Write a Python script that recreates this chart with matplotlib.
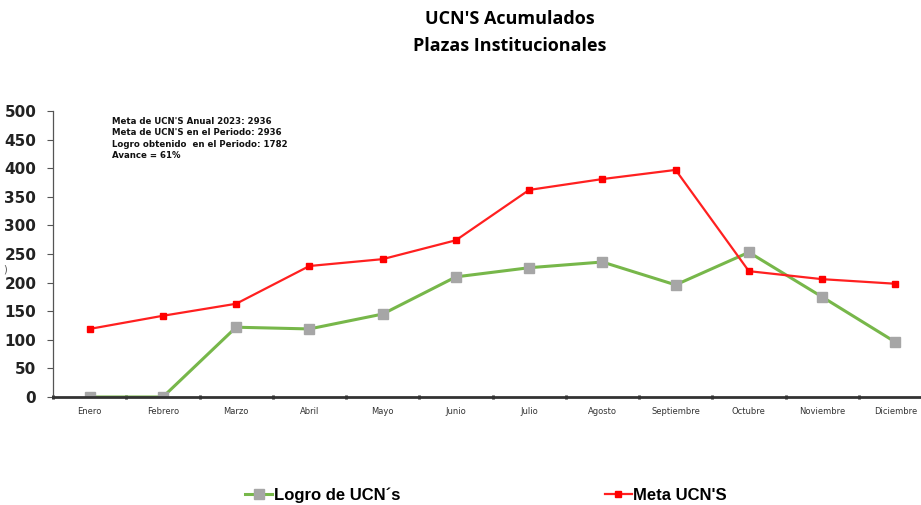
import matplotlib
matplotlib.use('Agg')
import matplotlib.pyplot as plt
import numpy as np

meses = ['Enero', 'Febrero', 'Marzo', 'Abril', 'Mayo', 'Junio', 'Julio',
         'Agosto', 'Septiembre', 'Octubre', 'Noviembre', 'Diciembre']
logro = [0, 0, 122, 119, 145, 210, 226, 236, 196, 253, 175, 96]
meta = [119, 142, 163, 229, 241, 274, 362, 381, 397, 220, 206, 198]
notas = ["Meta de UCN'S Anual 2023: 2936",
         "Meta de UCN'S en el Periodo: 2936",
         "Logro obtenido  en el Periodo: 1782",
         "Avance = 61%"]

fig = plt.figure(figsize=(9.21, 5.05), dpi=100)
ax = fig.add_axes([53 / 921, 108 / 505, 879 / 921, 286 / 505])

x = np.arange(len(meses))
l1, = ax.plot(x, logro, color='#77b74a', lw=2.2, marker='s', ms=6.5,
              mfc='#a6a6a6', mec='#a6a6a6', label='Logro de UCN´s')
l2, = ax.plot(x, meta, color='#ff2020', lw=1.6, marker='s', ms=4.5,
              mfc='#ff0000', mec='#ff0000', label="Meta UCN'S")

ax.set_xlim(-0.5, 11.5)
ax.set_ylim(0, 500)
ax.set_yticks(range(0, 501, 50))
ax.set_xticks(x)
ax.set_xticklabels(meses, fontsize=6, color='#333333')
ax.set_xticks(np.arange(-0.5, 12, 1), minor=True)
ax.tick_params(axis='x', which='major', length=0, pad=7)
ax.tick_params(axis='x', which='minor', length=3, width=2, direction='inout', color='#222222')
ax.tick_params(axis='y', length=4, width=0.8, color='#555555', pad=8)
for lab in ax.get_yticklabels():
    lab.set_fontsize(11)
    lab.set_fontweight('bold')
    lab.set_color('#222222')

ax.spines['top'].set_visible(False)
ax.spines['right'].set_visible(False)
ax.spines['left'].set_color('#555555')
ax.spines['left'].set_linewidth(0.9)
ax.spines['bottom'].set_color('#333333')
ax.spines['bottom'].set_linewidth(2)

ax.text(0.31, 490, '\n'.join(notas), fontsize=6.2, fontweight='bold',
        va='top', ha='left', linespacing=1.35, color='#111111')

fig.text(0.553, 0.963, "UCN'S Acumulados", ha='center', va='center',
         fontsize=13, fontweight='bold', family='Open Sans')
fig.text(0.553, 0.908, "Plazas Institucionales", ha='center', va='center',
         fontsize=13, fontweight='bold', family='Open Sans')
fig.text(0.004, 0.46, ')', fontsize=7, color='#555555')

fig.legend(handles=[l1, l2], loc='center', bbox_to_anchor=(0.528, 0.02),
           ncol=2, frameon=False, columnspacing=12.3, handlelength=1.6,
           handletextpad=0.1, prop={'weight': 'bold', 'size': 12,
                                    'family': 'Liberation Sans'})

fig.savefig('out.png', dpi=100)
